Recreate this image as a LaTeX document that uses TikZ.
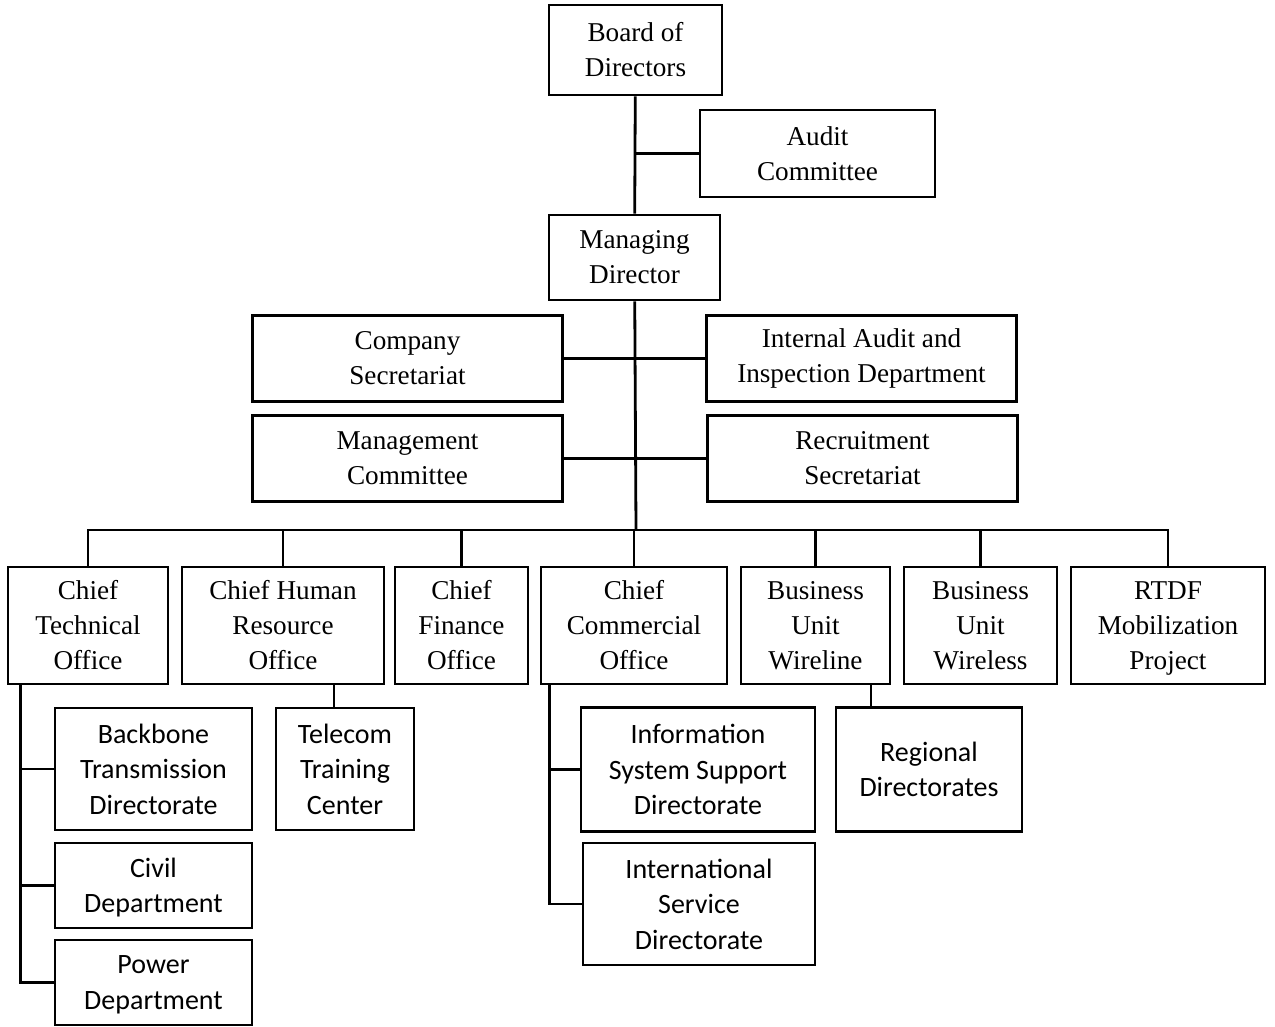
\documentclass[tikz,border=0pt]{standalone}
\usepackage{fontspec}
\setmainfont{Liberation Serif}
\newfontfamily\calib{Carlito}
\usepackage{tikz}

\begin{document}
\begin{tikzpicture}[
		x=0.5pt,y=-0.5pt,
		box/.style={draw,line width=1.4pt,align=center,inner sep=0pt,font=\fontsize{13.6}{17.5}\selectfont},
		subbox/.style={box,font=\calib\fontsize{14}{17.75}\selectfont},
		link/.style={line width=1.4pt}]
		
		\useasboundingbox (0,0) rectangle (1275,1027);
		
		%spitze
		\node[box,minimum width=86.5pt,minimum height=45pt] (board) at (635.5,50) {Board of\\Directors};
		\node[box,minimum width=117.5pt,minimum height=43.5pt] (audit) at (817.5,153.5) {Audit\\Committee};
		\node[box,minimum width=85.5pt,minimum height=42.5pt] (md) at (634.5,257.5) {Managing\\Director};
		
		%stab
		\foreach \name/\x/\y/\text in {compsec/407.5/358.5/{Company\\Secretariat}, intaudit/861.5/358.5/{Internal Audit and\\Inspection Department},
			mgmt/407.5/458.5/{Management\\Committee}, recruit/862.5/458.5/{Recruitment\\Secretariat}}
		\node[box,minimum width=155pt,minimum height=43pt] (\name) at (\x,\y) {\text};
		
		%bereiche
		\foreach \name/\x/\w/\text in {cto/88/160/{Chief\\Technical\\Office}, chro/283/202/{Chief Human\\Resource\\Office}, cfo/461.5/133/{Chief\\Finance\\Office},
			cco/634/186/{Chief\\Commercial\\Office}, wireline/815.5/149/{Business\\Unit\\Wireline}, wireless/980.5/153/{Business\\Unit\\Wireless},
			rtdf/1168/194/{RTDF\\Mobilization\\\smash{Project}}}
		\node[box,minimum width=\w*0.5pt,minimum height=58.5pt] (\name) at (\x,625.5) {\text};
		
		%unterbereiche
		\node[subbox,minimum width=98.5pt,minimum height=61pt] (backbone) at (153.5,769) {Backbone\\Transmission\\Directorate};
		\node[subbox,minimum width=98.5pt,minimum height=42.5pt] (civil) at (153.5,885.5) {Civil\\\smash{Department}};
		\node[subbox,minimum width=98.5pt,minimum height=42.5pt] (power) at (153.5,982.5) {Power\\\smash{Department}};
		\node[subbox,minimum width=69pt,minimum height=61pt] (telecom) at (345,769) {Telecom\\Training\\Center};
		\node[subbox,minimum width=117pt,minimum height=62pt] (info) at (698,769.5) {Information\\System Support\\Directorate};
		\node[subbox,minimum width=116pt,minimum height=61pt] (intl) at (699,904) {International\\Service\\Directorate};
		\node[subbox,minimum width=93pt,minimum height=62pt] (regional) at (929,769.5) {Regional\\Directorates};
		
		%verbindungen oben
		\draw[link] (board) -- (md);
		\draw[link] (audit.west) -- (audit.west -| board.south);
		\foreach \name in {compsec,intaudit,mgmt,recruit}
		\draw[link] (\name) -- (\name -| md.south);
		
		%sammelschiene
		\coordinate (bus) at (636,530);
		\draw[link] (md) -- (bus);
		\foreach \name in {cto,chro,cfo,cco,wireline,wireless,rtdf}
		\draw[link] (bus) -| (\name.north);
		
		%verbindungen unten
		\foreach \name in {backbone,civil,power}
		\draw[link] ([xshift=7pt]cto.south west) |- (\name.west);
		\foreach \name in {info,intl}
		\draw[link] ([xshift=5pt]cco.south west) |- (\name.west);
		\draw[link] ([xshift=-5.5pt]telecom.north) -- ([xshift=-5.5pt]telecom.north |- chro.south);
		\draw[link] ([xshift=-29pt]regional.north) -- ([xshift=-29pt]regional.north |- wireline.south);
		
	\end{tikzpicture}
\end{document}
